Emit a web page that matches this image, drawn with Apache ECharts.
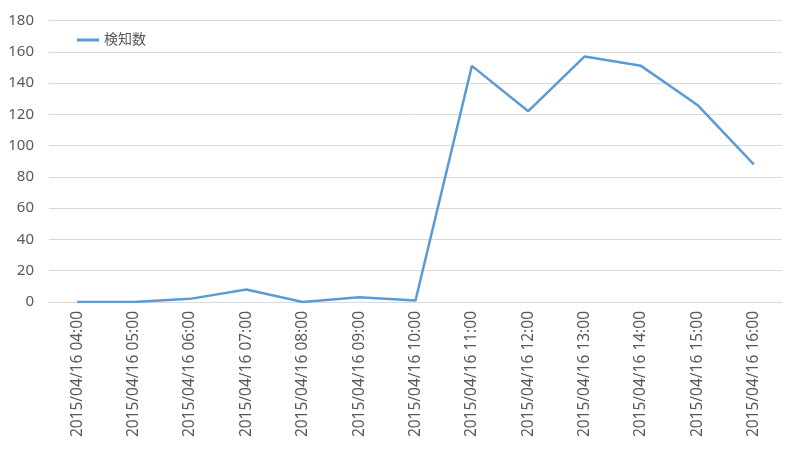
<!DOCTYPE html>
<html>
<head>
<meta charset="utf-8">
<script src="https://cdn.jsdelivr.net/npm/echarts@6/dist/echarts.min.js"></script>
<style>
  html, body { margin: 0; padding: 0; background: #fff; }
  #chart { width: 800px; height: 461px; }
</style>
</head>
<body>
<div id="chart"></div>
<script>
const categories = [
  "2015/04/16 04:00", "2015/04/16 05:00", "2015/04/16 06:00", "2015/04/16 07:00",
  "2015/04/16 08:00", "2015/04/16 09:00", "2015/04/16 10:00", "2015/04/16 11:00",
  "2015/04/16 12:00", "2015/04/16 13:00", "2015/04/16 14:00", "2015/04/16 15:00",
  "2015/04/16 16:00"
];
const detections = [0, 0, 2, 8, 0, 3, 1, 151, 122, 157, 151, 126, 88];
const seriesName = "検知数";

const fontFamily = "'Noto Sans', 'Noto Sans CJK JP', sans-serif";
const chart = echarts.init(document.getElementById("chart"));

chart.setOption({
  animation: false,
  textStyle: { fontFamily: fontFamily },
  grid: { left: 49, right: 18, top: 20.5, bottom: 159 },
  legend: {
    left: 72,
    top: 28,
    itemWidth: 22,
    itemHeight: 3,
    itemGap: 4,
    icon: "rect",
    textStyle: { fontSize: 14, color: "#595959", fontFamily: fontFamily },
    data: [seriesName]
  },
  xAxis: {
    type: "category",
    data: categories,
    boundaryGap: true,
    axisLine: { lineStyle: { color: "#d9d9d9", width: 1 } },
    axisTick: { show: false },
    axisLabel: {
      rotate: 90,
      interval: 0,
      margin: 9,
      fontSize: 15.5,
      color: "#595959"
    }
  },
  yAxis: {
    type: "value",
    min: 0,
    max: 180,
    interval: 20,
    axisLine: { show: false },
    axisTick: { show: false },
    axisLabel: { fontSize: 15, color: "#595959", margin: 15 },
    splitLine: { lineStyle: { color: "#d9d9d9", width: 1 } }
  },
  series: [
    {
      name: seriesName,
      type: "line",
      data: detections,
      symbol: "none",
      lineStyle: { color: "#5b9bd5", width: 2.5 },
      itemStyle: { color: "#5b9bd5" }
    }
  ]
});
</script>
</body>
</html>
